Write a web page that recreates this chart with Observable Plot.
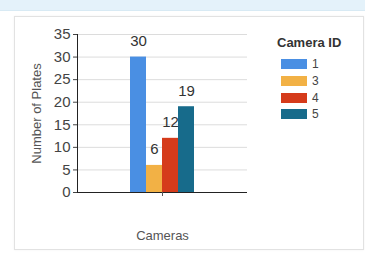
<!DOCTYPE html>
<html><head><meta charset="utf-8">
<script src="https://cdn.jsdelivr.net/npm/d3@7"></script>
<script src="https://cdn.jsdelivr.net/npm/@observablehq/plot@0.6"></script>
<style>
body{margin:0;width:365px;height:254px;overflow:hidden;background:#fff;font-family:"Liberation Sans",Arial,sans-serif;position:relative}
#band{position:absolute;left:0;top:0;width:365px;height:10px;background:#e4f2fa;border-bottom:1px solid #d8eaf4}
#card{position:absolute;left:14px;top:16px;width:348px;height:232px;border:1px solid #e2e2e2;box-shadow:0 0 2px rgba(0,0,0,0.06);background:#fff}
#chart{position:absolute;left:0;top:0}
#legend{position:absolute;left:277px;top:35px;color:#333}
#legend .title{font-weight:bold;font-size:13px;line-height:15px;height:15px;margin-bottom:6px}
#legend .row{display:flex;align-items:center;height:16.7px;margin-left:4px}
#legend .sw{width:26px;height:10px;margin-right:5px}
#legend .lab{font-size:12px;color:#444}
</style></head><body>
<div id="band"></div><div id="card"></div><div id="chart"></div><div id="legend"></div>
<script>
const group = "Cameras";
const cameraIds = ["1", "3", "4", "5"];
const plates = [30, 6, 12, 19];
const colors = ["#4a8fe3", "#f2b145", "#d53b1b", "#176b8b"];
const yTicks = [0, 5, 10, 15, 20, 25, 30, 35];
const legendTitle = "Camera ID";
const yTitle = "Number of Plates";

const data = cameraIds.map((id, i) => ({group, id, plates: plates[i]}));

const chart = Plot.plot({
  width: 365, height: 254,
  marginLeft: 77, marginRight: 118, marginTop: 34, marginBottom: 62,
  style: {fontFamily: '"Liberation Sans", Arial, sans-serif', background: "transparent", overflow: "visible"},
  fx: {domain: [group], padding: 0},
  x: {domain: cameraIds, paddingInner: 0, paddingOuter: 3.15, axis: null},
  y: {domain: [0, 35]},
  color: {domain: cameraIds, range: colors},
  marks: [
    Plot.gridY(yTicks, {stroke: "#dcdcdc", strokeOpacity: 1}),
    Plot.barY(data, {fx: "group", x: "id", y: "plates", fill: "id"}),
    Plot.ruleY([0], {stroke: "#222"}),
    Plot.frame({anchor: "left", stroke: "#222"}),
    Plot.axisY(yTicks, {anchor: "left", tickSize: 4, tickPadding: 3, fontSize: 15, color: "#444", label: null}),
    Plot.axisY({ticks: [], anchor: "left", label: yTitle, labelArrow: "none", labelAnchor: "center", labelOffset: 46, fontSize: 13, color: "#555"}),
    Plot.axisFx({anchor: "bottom", tickSize: 4, tickPadding: 34, fontSize: 13, color: "#555", label: null}),
    Plot.text(data, {fx: "group", x: "id", y: "plates", text: d => String(d.plates), dy: -16, fontSize: 15, fill: "#333"})
  ]
});
document.getElementById("chart").appendChild(chart);

const leg = document.getElementById("legend");
const t = document.createElement("div");
t.className = "title"; t.textContent = legendTitle; leg.appendChild(t);
cameraIds.forEach((id, i) => {
  const r = document.createElement("div"); r.className = "row";
  const s = document.createElement("div"); s.className = "sw"; s.style.background = colors[i];
  const l = document.createElement("div"); l.className = "lab"; l.textContent = id;
  r.appendChild(s); r.appendChild(l); leg.appendChild(r);
});
</script>
</body></html>
